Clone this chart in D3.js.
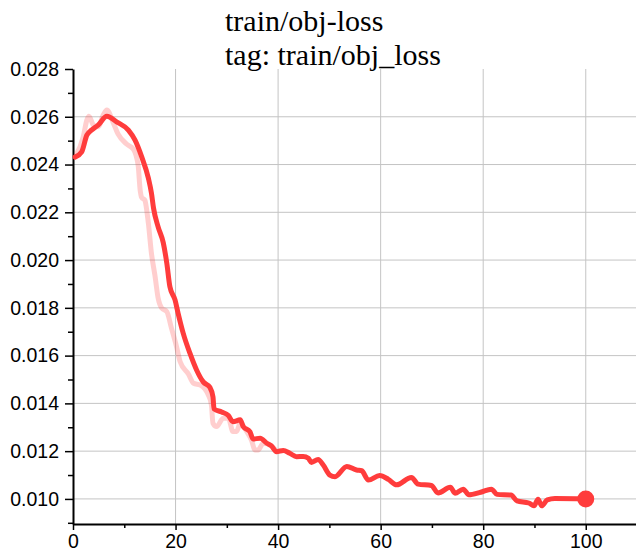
<!DOCTYPE html>
<html>
<head>
<meta charset="utf-8">
<script src="https://cdn.jsdelivr.net/npm/d3@7"></script>
<style>
  body { margin: 0; background: #fff; }
  svg { display: block; }
</style>
</head>
<body>
<div id="chart"></div>
<script>
// smoothed curve (solid red)
const smoothSteps = [0.4, 1.7, 2.7, 3.6, 4.9, 6.6, 8.5, 10.8, 12.1, 13.4, 14.7, 15.3, 15.7, 16.6, 17.6, 18.3, 18.9, 19.9, 20.5, 21.5, 22.8, 24.1, 25.4, 26.7, 27.3, 27.5, 29.0, 30.3, 31.2, 32.6, 33.2, 34.5, 35.1, 36.5, 37.8, 38.7, 39.7, 41.0, 42.3, 43.6, 44.9, 45.9, 46.5, 47.8, 48.8, 50.1, 51.1, 53.4, 55.3, 56.3, 57.6, 59.8, 61.5, 63.1, 66.0, 67.3, 69.9, 71.2, 73.6, 74.5, 76.1, 77.2, 79.5, 81.6, 82.7, 85.4, 86.6, 88.9, 89.9, 90.7, 91.4, 92.5, 94.0, 100];
const smoothLoss = [0.02431, 0.02453, 0.02523, 0.02544, 0.02565, 0.02602, 0.02579, 0.02544, 0.02502, 0.02432, 0.02343, 0.02280, 0.02218, 0.02139, 0.02073, 0.01986, 0.01888, 0.01833, 0.01777, 0.01693, 0.01610, 0.01540, 0.01490, 0.01467, 0.01427, 0.01377, 0.01364, 0.01349, 0.01323, 0.01331, 0.01303, 0.01282, 0.01251, 0.01254, 0.01233, 0.01222, 0.01198, 0.01203, 0.01191, 0.01177, 0.01178, 0.01170, 0.01153, 0.01165, 0.01142, 0.01100, 0.01093, 0.01136, 0.01121, 0.01118, 0.01079, 0.01098, 0.01082, 0.01059, 0.01090, 0.01062, 0.01056, 0.01025, 0.01049, 0.01024, 0.01041, 0.01017, 0.01028, 0.01041, 0.01019, 0.01016, 0.00992, 0.00983, 0.00971, 0.00999, 0.00971, 0.00996, 0.01002, 0.01000];

// raw values (faint pink), merges under the smooth line after ~40
const rawSteps = [0.4, 2.0, 2.7, 3.1, 4.0, 4.9, 5.9, 6.6, 7.9, 8.8, 10.5, 11.8, 12.7, 13.1, 13.4, 14.0, 14.7, 15.3, 16.0, 16.6, 17.3, 18.3, 19.2, 20.2, 20.9, 22.5, 23.5, 24.8, 26.4, 27.0, 27.3, 28.0, 29.3, 30.3, 31.2, 31.9, 32.6, 33.9, 34.8, 35.5, 36.1, 37.1, 38.7, 39.7];
const rawLoss = [0.02431, 0.02516, 0.02586, 0.02602, 0.02565, 0.02558, 0.02607, 0.02628, 0.02572, 0.02527, 0.02485, 0.02464, 0.02397, 0.02293, 0.02262, 0.02251, 0.02154, 0.02028, 0.01933, 0.01841, 0.01799, 0.01784, 0.01715, 0.01637, 0.01574, 0.01523, 0.01484, 0.01477, 0.01435, 0.01393, 0.01317, 0.01303, 0.01338, 0.01338, 0.01282, 0.01282, 0.01317, 0.01282, 0.01247, 0.01205, 0.01205, 0.01233, 0.01222, 0.01198];

const xTicks = [0, 20, 40, 60, 80, 100];
const xMinor = [10, 30, 50, 70, 90];
const yTicks = [0.010, 0.012, 0.014, 0.016, 0.018, 0.020, 0.022, 0.024, 0.026, 0.028];
const yMinor = [0.009, 0.011, 0.013, 0.015, 0.017, 0.019, 0.021, 0.023, 0.025, 0.027];
const titleLines = ["train/obj-loss", "tag: train/obj_loss"];

const W = 636, H = 557;
const plot = {left: 73, right: 636, top: 69, bottom: 524};

const svg = d3.select("#chart").append("svg")
    .attr("width", W)
    .attr("height", H);

const x = d3.scaleLinear().domain([0, 109.8]).range([plot.left, plot.right]);
const y = d3.scaleLinear().domain([0.00895, 0.028]).range([plot.bottom, plot.top]);

// grid
svg.append("g")
  .selectAll("line")
  .data(xTicks.slice(1))
  .join("line")
    .attr("x1", d => x(d)).attr("x2", d => x(d))
    .attr("y1", plot.top).attr("y2", plot.bottom)
    .attr("stroke", "#c4c4c4").attr("stroke-width", 1);
svg.append("g")
  .selectAll("line")
  .data(yTicks.slice(0, -1))
  .join("line")
    .attr("x1", plot.left).attr("x2", plot.right)
    .attr("y1", d => y(d)).attr("y2", d => y(d))
    .attr("stroke", "#c4c4c4").attr("stroke-width", 1);

// axes
const xAxis = svg.append("g")
    .attr("transform", "translate(0," + plot.bottom + ")")
    .call(d3.axisBottom(x).tickValues(xTicks).tickSize(6).tickSizeOuter(0).tickPadding(4));
svg.append("g")
    .attr("transform", "translate(0," + plot.bottom + ")")
    .call(d3.axisBottom(x).tickValues(xMinor).tickSize(4).tickFormat(""))
    .call(g => g.select(".domain").remove());
const yAxis = svg.append("g")
    .attr("transform", "translate(" + plot.left + ",0)")
    .call(d3.axisLeft(y).tickValues(yTicks).tickSize(8).tickSizeOuter(0).tickPadding(6).tickFormat(d3.format(".3f")));
svg.append("g")
    .attr("transform", "translate(" + plot.left + ",0)")
    .call(d3.axisLeft(y).tickValues(yMinor).tickSize(5).tickFormat(""))
    .call(g => g.select(".domain").remove());

svg.selectAll(".domain").attr("stroke", "#000").attr("stroke-width", 2);
svg.selectAll(".tick line").attr("stroke", "#000").attr("stroke-width", 1.5);
svg.selectAll(".tick text")
    .attr("fill", "#000")
    .style("font-family", "'Liberation Sans', Arial, sans-serif")
    .style("font-size", "19.5px");
xAxis.selectAll(".tick text").attr("dy", "0.71em");

// lines
const line = d3.line()
    .x(d => x(d[0]))
    .y(d => y(d[1]))
    .curve(d3.curveMonotoneX);

svg.append("path")
    .datum(rawSteps.map((s, i) => [s, rawLoss[i]]))
    .attr("fill", "none")
    .attr("stroke", "#ff3c3c")
    .attr("stroke-opacity", 0.25)
    .attr("stroke-width", 5)
    .attr("stroke-linejoin", "round")
    .attr("d", line);

const smoothData = smoothSteps.map((s, i) => [s, smoothLoss[i]]);
svg.append("path")
    .datum(smoothData)
    .attr("fill", "none")
    .attr("stroke", "#ff3c3c")
    .attr("stroke-width", 5)
    .attr("stroke-linejoin", "round")
    .attr("stroke-linecap", "round")
    .attr("d", line);

const last = smoothData[smoothData.length - 1];
svg.append("circle")
    .attr("cx", x(last[0]))
    .attr("cy", y(last[1]))
    .attr("r", 8.5)
    .attr("fill", "#ff3c3c");

// title
svg.append("g")
  .selectAll("text")
  .data(titleLines)
  .join("text")
    .attr("x", 225)
    .attr("y", (d, i) => 31 + i * 34)
    .style("font-family", "'Liberation Serif', 'Times New Roman', serif")
    .style("font-size", "30px")
    .attr("fill", "#000")
    .text(d => d);
</script>
</body>
</html>
